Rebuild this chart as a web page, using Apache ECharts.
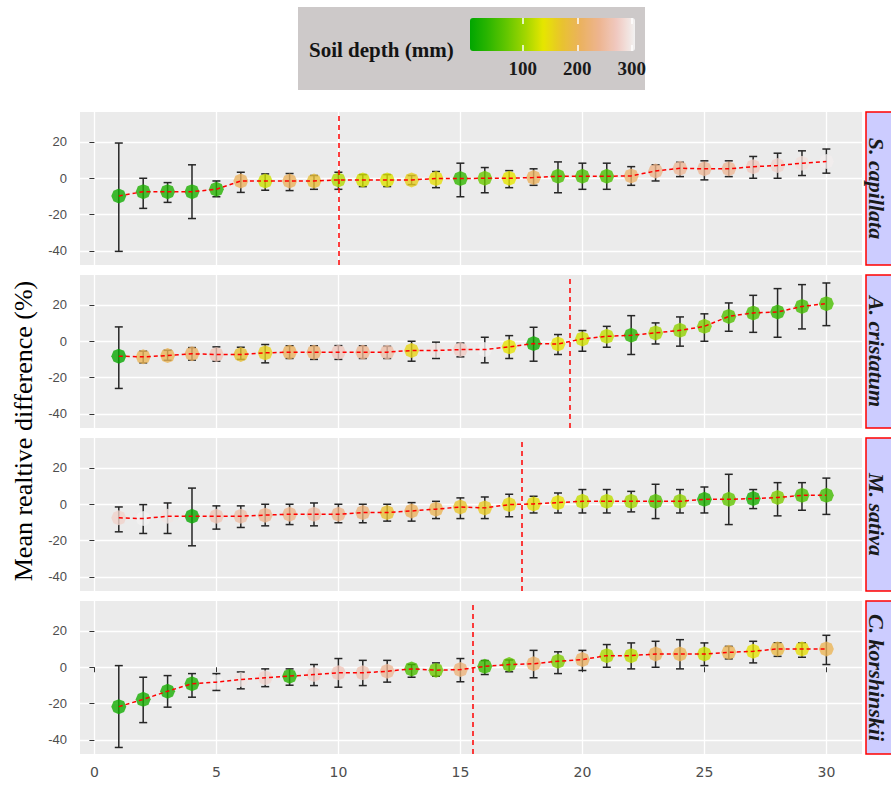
<!DOCTYPE html>
<html>
<head>
<meta charset="utf-8">
<script src="https://cdn.jsdelivr.net/npm/echarts@6/dist/echarts.min.js"></script>
<style>html,body{margin:0;padding:0;background:#fff}#c{width:891px;height:788px}</style>
</head>
<body>
<div id="c"></div>
<script>
// ---------- data ----------
const days = [1,2,3,4,5,6,7,8,9,10,11,12,13,14,15,16,17,18,19,20,21,22,23,24,25,26,27,28,29,30];
const panelNames = ['S. capillata', 'A. cristatum', 'M. sativa', 'C. korshinskii'];
const thresholds = [10, 19.5, 17.5, 15.5];
const xTicks = [0, 5, 10, 15, 20, 25, 30];
const yTicks = [-40, -20, 0, 20];
const depthTicks = [100, 200, 300];
const legendTitle = 'Soil depth (mm)';
const yTitle = 'Mean realtive difference (%)';

// S. capillata
const scMean  = [-9.8,-7.4,-7.4,-7.4,-6.1,-1.5,-1.5,-1.5,-1.5,-0.9,-0.9,-0.9,-0.9,-0.2,-0.2,0,0,0.4,1.1,1.1,1.1,1.3,4.0,5.5,5.2,5.2,6.4,7.0,8.3,9.2];
const scUpper = [19.4,0,-2.4,7.4,-1.5,3.3,2.4,2.6,1.5,3.3,2.0,2.0,1.5,3.7,8.3,5.9,4.2,5.2,9.0,8.3,8.3,6.4,7.4,8.8,9.6,9.6,12.0,13.8,15.1,16.1];
const scLower = [-40.3,-16.6,-13.3,-22.2,-10.2,-7.8,-6.6,-6.8,-6.1,-6.1,-4.6,-4.6,-3.5,-5.2,-10.2,-8.0,-5.2,-3.9,-8.0,-6.1,-6.1,-3.9,-1.5,0.9,-0.9,0.9,0,0,1.5,2.8];
const scDepth = [15,25,25,25,30,205,125,205,180,112,128,133,160,145,40,75,138,205,55,55,55,215,235,245,245,245,270,280,290,303];

// A. cristatum
const acMean  = [-8.2,-8.6,-7.9,-6.9,-7.3,-7.3,-6.4,-6.0,-6.0,-6.0,-6.0,-6.0,-5.1,-5.1,-4.6,-4.6,-3.1,-1.3,-1.5,1.3,2.7,3.3,4.6,6.0,8.2,13.7,15.6,16.1,19.2,20.7];
const acUpper = [7.9,-5.5,-5.0,-3.5,-3.1,-3.3,-1.8,-2.5,-2.5,-2.4,-2.5,-2.8,0,-0.5,-1.0,2.2,3.1,7.7,3.7,5.9,8.2,14.1,10.1,13.4,15.1,21.1,25.3,29.0,31.2,32.1];
const acLower = [-26,-11.9,-10.5,-10.4,-11,-10,-11.9,-9.5,-10,-10,-9.5,-9.5,-11,-9.5,-8.6,-11.9,-9.5,-11,-7.3,-5.5,-3.3,-7.3,-1.5,-2.7,0,5.5,4.9,2.2,6.8,8.6];
const acDepth = [8,200,200,210,265,175,160,205,220,270,240,255,155,295,275,305,140,15,140,128,120,35,108,95,85,60,55,40,50,55];

// M. sativa
const msMean  = [-7.5,-7.9,-6.6,-6.6,-6.6,-6.6,-6.0,-5.5,-5.5,-5.5,-4.6,-4.6,-3.7,-2.7,-1.5,-2.0,-0.2,0.2,0.9,1.6,1.6,1.6,1.6,1.6,2.7,2.7,3.1,3.7,4.9,4.9];
const msUpper = [-1.5,-0.2,0.7,8.9,-0.9,-0.9,0,0,0.7,0,0,0,0.9,1.6,3.5,4.0,5.5,4.4,6.2,8.1,8.1,7.1,11.0,8.1,9.5,16.5,8.1,11.9,11.9,14.4];
const msLower = [-15.2,-16.1,-16.1,-22.9,-13.7,-12.8,-11.9,-11.2,-11.9,-10.2,-10.2,-9.3,-9.3,-7.9,-7.9,-7.9,-6.9,-4.8,-4.8,-4.8,-4.8,-4.2,-7.9,-4.8,-4.8,-11.2,-2.4,-6.4,-3.3,-5.6];
const msDepth = [280,305,295,8,265,255,240,235,255,235,225,175,205,200,170,165,150,145,140,122,118,105,60,95,25,70,20,85,55,50];

// C. korshinskii
const ckMean  = [-21.7,-17.7,-13.2,-9.1,-8.2,-6.8,-5.8,-4.9,-4.0,-3.1,-3.1,-2.2,-0.9,-1.6,-1.3,0.5,1.5,1.9,3.3,4.2,6.4,6.4,7.3,7.3,7.3,8.2,8.8,10.1,10.1,10.1];
const ckUpper = [0.9,-5.5,-4.6,-3.5,-3.5,-2.6,-0.9,-0.9,1.5,4.8,3.8,3.8,1.5,2.4,4.8,3.7,4.0,9.3,8.5,9.3,12.5,13.4,14.3,15.2,13.4,11.5,14.3,13.5,13.4,17.6];
const ckLower = [-44.2,-30.5,-22,-16.5,-12.8,-11.9,-10.7,-9.9,-10.1,-11.0,-10.1,-8.2,-5.5,-4.9,-8.0,-4.0,-2.5,-5.8,-3.5,-1.8,0,-0.9,0,-0.9,0.9,4.6,2.4,6.0,5.5,1.5];
const ckDepth = [15,20,20,25,305,295,282,30,278,268,262,245,55,75,225,45,70,215,85,210,110,118,205,200,125,200,140,190,145,200];

const means  = [scMean, acMean, msMean, ckMean];
const uppers = [scUpper, acUpper, msUpper, ckUpper];
const lowers = [scLower, acLower, msLower, ckLower];
const depths = [scDepth, acDepth, msDepth, ckDepth];

const depthMin = 3, depthMax = 306;
const terrainColors = ['#00A600','#2DB600','#63C600','#A0D600','#E6E600','#E8C32E','#EBB25E','#EDB48E','#F0C9C0','#F2F2F2'];

// ---------- layout ----------
const panelTops = [112, 275, 438, 601];
const panelH = 153, panelLeft = 80, panelW = 782;
const xMin = -0.59, xMax = 31.46;
const yMin = -47.8, yMax = 36.5;

const chart = echarts.init(document.getElementById('c'), null, {renderer: 'svg'});

const grids = [], xAxes = [], yAxes = [], series = [], graphics = [];
const scatterIdx = [];
const octagon = 'path://M10,0 L17.07,2.93 L20,10 L17.07,17.07 L10,20 L2.93,17.07 L0,10 L2.93,2.93 Z';

panelTops.forEach((top, i) => {
  grids.push({left: panelLeft, top: top, width: panelW, height: panelH, show: true,
    backgroundColor: '#EBEBEB', borderWidth: 0, outerBoundsMode: 'none'});
  const last = i === panelTops.length - 1;
  xAxes.push({type: 'value', gridIndex: i, min: xMin, max: xMax,
    axisLine: {show: false},
    axisTick: {show: last, customValues: xTicks, length: 5, lineStyle: {color: '#333', width: 1}},
    axisLabel: {show: last, customValues: xTicks, fontSize: 14, color: '#4D4D4D', margin: 11, fontFamily: 'DejaVu Sans'},
    splitLine: {show: true, lineStyle: {color: '#FFFFFF', width: 1.3}}
  });
  yAxes.push({type: 'value', gridIndex: i, min: yMin, max: yMax,
    axisLine: {show: false},
    axisTick: {show: true, customValues: yTicks, length: 5, lineStyle: {color: '#333', width: 1}},
    axisLabel: {customValues: yTicks, fontSize: 13, color: '#4D4D4D', margin: 13, fontFamily: 'Liberation Sans'},
    splitLine: {show: true, lineStyle: {color: '#FFFFFF', width: 1.3}}
  });

  // error bars
  series.push({type: 'custom', xAxisIndex: i, yAxisIndex: i, z: 2,
    data: days.map((d, k) => [d, lowers[i][k], uppers[i][k]]),
    encode: {x: 0, y: [1, 2]},
    renderItem: function (params, api) {
      const x = api.value(0);
      const pLo = api.coord([x, api.value(1)]);
      const pHi = api.coord([x, api.value(2)]);
      const hw = 4;
      const st = {stroke: '#262626', lineWidth: 1.5};
      return {type: 'group', children: [
        {type: 'line', shape: {x1: pLo[0], y1: pLo[1], x2: pHi[0], y2: pHi[1]}, style: st},
        {type: 'line', shape: {x1: pLo[0] - hw, y1: pLo[1], x2: pLo[0] + hw, y2: pLo[1]}, style: st},
        {type: 'line', shape: {x1: pHi[0] - hw, y1: pHi[1], x2: pHi[0] + hw, y2: pHi[1]}, style: st}
      ]};
    }
  });
  // points
  scatterIdx.push(series.length);
  series.push({type: 'scatter', xAxisIndex: i, yAxisIndex: i, z: 3,
    symbol: octagon, symbolSize: 15,
    data: days.map((d, k) => [d, means[i][k], depths[i][k]])
  });
  // dashed trend line + threshold
  series.push({type: 'line', xAxisIndex: i, yAxisIndex: i, z: 4,
    symbol: 'none', silent: true,
    lineStyle: {color: '#FF0000', width: 1.5, type: [4, 3]},
    data: days.map((d, k) => [d, means[i][k]]),
    markLine: {silent: true, symbol: ['none', 'none'], label: {show: false},
      lineStyle: {color: '#FF0000', width: 1.5, type: [5, 4]},
      data: [{xAxis: thresholds[i]}]}
  });

  // facet strip
  graphics.push({type: 'rect', z: 1, shape: {x: panelLeft + panelW + 4, y: top, width: 40, height: panelH},
    style: {fill: '#CCCCFF', stroke: '#FF0000', lineWidth: 1.5}});
  graphics.push({type: 'text', z: 2, x: 876, y: top + panelH / 2, rotation: -Math.PI / 2,
    style: {text: panelNames[i], font: 'italic bold 22px "Liberation Serif"', fill: '#1A1A1A',
      textAlign: 'center', textVerticalAlign: 'middle'}});
});

// legend axis grid (labels + white ticks on the colour bar)
const legGrid = grids.length;
grids.push({left: 470, top: 18, width: 165, height: 33, show: false, outerBoundsMode: 'none'});
xAxes.push({type: 'value', gridIndex: legGrid, min: depthMin, max: depthMax, position: 'bottom', z: 10,
  axisLine: {show: false},
  axisTick: {show: true, inside: true, length: 6, customValues: depthTicks, lineStyle: {color: '#FFFFFF', width: 1.5}},
  axisLabel: {customValues: depthTicks, fontSize: 19, fontWeight: 'bold', fontFamily: 'Liberation Serif', color: '#1A1A1A', margin: 8},
  splitLine: {show: false}});
xAxes.push({type: 'value', gridIndex: legGrid, min: depthMin, max: depthMax, position: 'top', z: 10,
  axisLine: {show: false},
  axisTick: {show: true, inside: true, length: 6, customValues: depthTicks, lineStyle: {color: '#FFFFFF', width: 1.5}},
  axisLabel: {show: false}, splitLine: {show: false}});
yAxes.push({type: 'value', gridIndex: legGrid, show: false});

graphics.push({type: 'rect', z: 0, shape: {x: 298, y: 7, width: 347, height: 83},
  style: {fill: '#CDC9C9', stroke: 'none'}});
graphics.push({type: 'text', z: 1, x: 309, y: 50,
  style: {text: legendTitle, font: 'bold 21px "Liberation Serif"', fill: '#141414', textAlign: 'left', textVerticalAlign: 'middle'}});
graphics.push({type: 'text', z: 1, x: 23, y: 431, rotation: Math.PI / 2,
  style: {text: yTitle, font: '26px "Liberation Serif"', fill: '#000', textAlign: 'center', textVerticalAlign: 'middle'}});

chart.setOption({
  animation: false,
  backgroundColor: '#FFFFFF',
  grid: grids,
  xAxis: xAxes,
  yAxis: yAxes,
  visualMap: {type: 'continuous', min: depthMin, max: depthMax, dimension: 2, seriesIndex: scatterIdx,
    orient: 'horizontal', left: 470, top: 18, itemWidth: 33, itemHeight: 165, padding: 0,
    calculable: false, hoverLink: false, text: null, showLabel: false,
    inRange: {color: terrainColors}},
  graphic: {elements: graphics},
  series: series
});
</script>
</body>
</html>
